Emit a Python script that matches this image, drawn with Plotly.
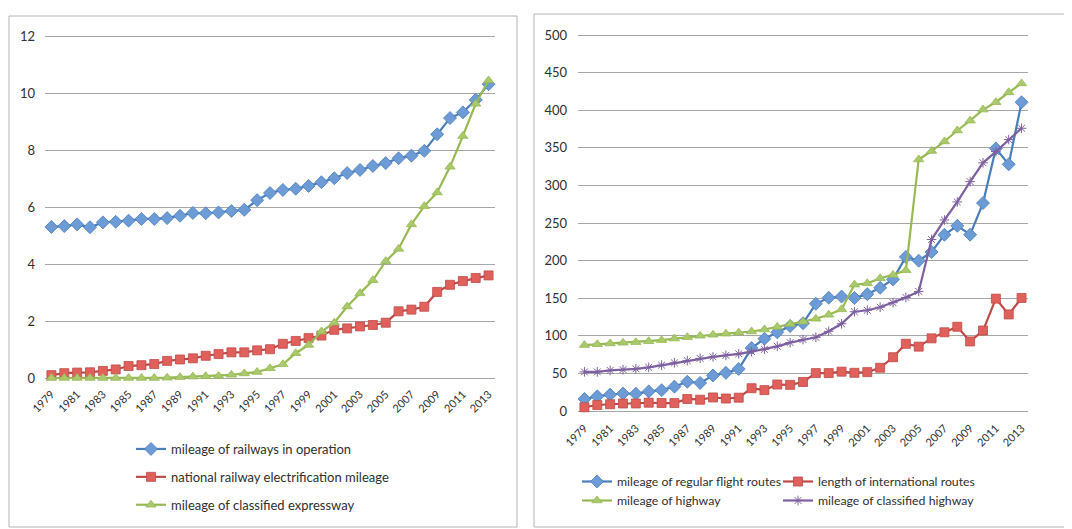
import plotly.graph_objects as go

years = list(range(1979, 2014))

# Left chart (10k km)
rail_operation = [5.30, 5.33, 5.39, 5.29, 5.46, 5.48, 5.52, 5.58, 5.58, 5.61, 5.69, 5.79, 5.78, 5.81,
                  5.86, 5.90, 6.24, 6.49, 6.60, 6.64, 6.74, 6.87, 7.01, 7.19, 7.30, 7.44, 7.54, 7.71,
                  7.80, 7.97, 8.55, 9.12, 9.32, 9.76, 10.31]
rail_electrified = [0.10, 0.17, 0.19, 0.20, 0.25, 0.30, 0.42, 0.45, 0.49, 0.60, 0.65, 0.69, 0.78, 0.84,
                    0.90, 0.90, 0.97, 1.01, 1.20, 1.30, 1.40, 1.49, 1.69, 1.74, 1.81, 1.86, 1.94, 2.34,
                    2.40, 2.50, 3.02, 3.27, 3.40, 3.51, 3.60]
expressway = [0.00, 0.00, 0.00, 0.00, 0.00, 0.00, 0.00, 0.00, 0.00, 0.01, 0.03, 0.05, 0.06, 0.07,
              0.11, 0.16, 0.21, 0.34, 0.48, 0.87, 1.16, 1.63, 1.94, 2.51, 2.97, 3.43, 4.10, 4.53,
              5.39, 6.03, 6.51, 7.41, 8.49, 9.62, 10.44]

# Right chart (10k km)
flight_routes = [16.0, 19.5, 21.8, 23.3, 22.9, 26.0, 27.7, 32.4, 38.9, 37.4, 47.2, 50.7, 55.9, 83.7,
                 96.1, 104.6, 112.9, 116.7, 142.5, 150.6, 152.2, 150.3, 155.4, 163.8, 175.0, 204.9,
                 199.9, 211.4, 234.3, 246.2, 234.5, 276.5, 349.1, 328.0, 410.6]
intl_routes = [5.0, 8.0, 9.0, 10.0, 10.0, 11.0, 10.6, 10.5, 16.0, 15.0, 18.0, 16.6, 17.7, 30.3,
               27.8, 35.2, 34.8, 38.6, 50.4, 50.4, 52.3, 50.8, 51.7, 57.5, 71.5, 89.4, 85.6, 96.6,
               104.7, 112.0, 92.5, 107.0, 149.4, 128.4, 150.3]
highway = [87.6, 88.8, 89.8, 90.7, 91.5, 92.7, 94.2, 96.3, 98.2, 100.0, 101.4, 102.8, 104.1, 105.7,
           108.4, 111.8, 115.7, 118.6, 122.6, 127.9, 135.2, 168.0, 169.8, 176.5, 181.0, 187.1,
           334.5, 345.7, 358.4, 373.0, 386.1, 400.8, 410.6, 423.8, 435.6]
classified_highway = [52, 52, 54, 55, 56, 58, 61, 64, 67, 70, 72, 74, 76, 79, 82, 86, 91, 95, 98, 106,
                      116, 132, 134, 138, 144, 151, 159, 228, 254, 278, 305, 330, 345, 361, 376]

left_ticks = [0, 2, 4, 6, 8, 10, 12]
right_ticks = [0, 50, 100, 150, 200, 250, 300, 350, 400, 450, 500]
year_ticks = list(range(1979, 2014, 2))

# the page places the figure 8px in from the top-left corner
OFF = 8
W, H = 1072 - OFF, 529 - OFF
FONT = "Lato"
TXT = "#303030"
GRID = "#a6a6a6"

BLUE_L, BLUE_M = "#4a7ebb", "#6d9bd6"
RED_L, RED_M = "#be4b48", "#e0605c"
GREEN_L, GREEN_M = "#98b954", "#a9c96c"
PURPLE_L = "#7d60a0"


def px_x(p):
    return (p - OFF) / W


def px_y(p):
    return 1 - (p - OFF) / H


fig = go.Figure()


def add(y, name, line, mcol, symbol, xa, ya, legend, size=9):
    fig.add_trace(go.Scatter(
        x=years, y=y, name=name, mode="lines+markers",
        line=dict(color=line, width=2.2),
        marker=dict(symbol=symbol, size=size, color=mcol, line=dict(color=line, width=0.8)),
        xaxis=xa, yaxis=ya, legend=legend, legendgroup=name, cliponaxis=False,
    ))


add(rail_operation, "mileage of railways in operation", BLUE_L, BLUE_M, "diamond", "x", "y", "legend", 10)
add(rail_electrified, "national railway electrification mileage", RED_L, RED_M, "square", "x", "y", "legend", 9)
add(expressway, "mileage of classified expressway", GREEN_L, GREEN_M, "triangle-up", "x", "y", "legend", 9)

add(flight_routes, "mileage of regular flight routes", BLUE_L, BLUE_M, "diamond", "x2", "y2", "legend2", 10)
add(intl_routes, "length of international routes", RED_L, RED_M, "square", "x2", "y2", "legend3", 9)
add(highway, "mileage of highway", GREEN_L, GREEN_M, "triangle-up", "x2", "y2", "legend2", 9)
fig.add_trace(go.Scatter(
    x=years, y=classified_highway, name="mileage of classified highway", mode="lines+markers",
    line=dict(color=PURPLE_L, width=2.2),
    marker=dict(symbol="asterisk-open", size=8, color=PURPLE_L, line=dict(color=PURPLE_L, width=1)),
    xaxis="x2", yaxis="y2", legend="legend3", legendgroup="ch", cliponaxis=False,
))

lpad = 0.1 * (378 - 36) / 12
rpad = 5 * (411 - 35) / 500

xcommon = dict(range=[1978.5, 2013.5], tickvals=year_ticks, tickangle=-45, showgrid=False,
               zeroline=False, showline=False, ticks="", automargin=False, ticklabelstandoff=4,
               tickfont=dict(family=FONT, size=11, color=TXT))
ycommon = dict(showgrid=True, gridcolor=GRID, gridwidth=1, zeroline=False, showline=False, ticks="",
               automargin=False, tickfont=dict(family=FONT, size=13, color=TXT))

shapes = [
    dict(type="rect", xref="paper", yref="paper", x0=px_x(9), x1=px_x(517), y0=px_y(527), y1=px_y(16),
         line=dict(color="#b4b4b4", width=1), fillcolor="rgba(0,0,0,0)", layer="below"),
    dict(type="rect", xref="paper", yref="paper", x0=px_x(534), x1=px_x(1068), y0=px_y(527), y1=px_y(14),
         line=dict(color="#b4b4b4", width=1), fillcolor="rgba(0,0,0,0)", layer="below"),
]

leg_font = dict(family=FONT, size=13, color=TXT)
leg_font_r = dict(family=FONT, size=12.3, color=TXT)

fig.update_layout(
    template="none",
    width=W, height=H,
    margin=dict(l=0, r=0, t=0, b=0, autoexpand=False),
    paper_bgcolor="white", plot_bgcolor="white",
    font=dict(family=FONT, size=12, color=TXT),
    showlegend=True,
    xaxis=dict(domain=[px_x(45), px_x(495)], anchor="y", **xcommon),
    yaxis=dict(domain=[px_y(378 + lpad), px_y(36 - lpad)], anchor="x",
               range=[-0.1, 12.1], tickvals=left_ticks, ticklabelstandoff=9, **ycommon),
    xaxis2=dict(domain=[px_x(578), px_x(1028)], anchor="y2", **xcommon),
    yaxis2=dict(domain=[px_y(411 + rpad), px_y(35 - rpad)], anchor="x2",
                range=[-5, 505], tickvals=right_ticks, ticklabelstandoff=10, **ycommon),
    legend=dict(x=px_x(131), y=px_y(434), xanchor="left", yanchor="top",
                orientation="v", tracegroupgap=8, bgcolor="rgba(0,0,0,0)", font=leg_font),
    legend2=dict(x=px_x(577), y=px_y(467), xanchor="left", yanchor="top",
                 orientation="v", tracegroupgap=0, bgcolor="rgba(0,0,0,0)", font=leg_font_r),
    legend3=dict(x=px_x(778), y=px_y(467), xanchor="left", yanchor="top",
                 orientation="v", tracegroupgap=0, bgcolor="rgba(0,0,0,0)", font=leg_font_r),
    shapes=shapes,
)

fig.write_html("out.html")
